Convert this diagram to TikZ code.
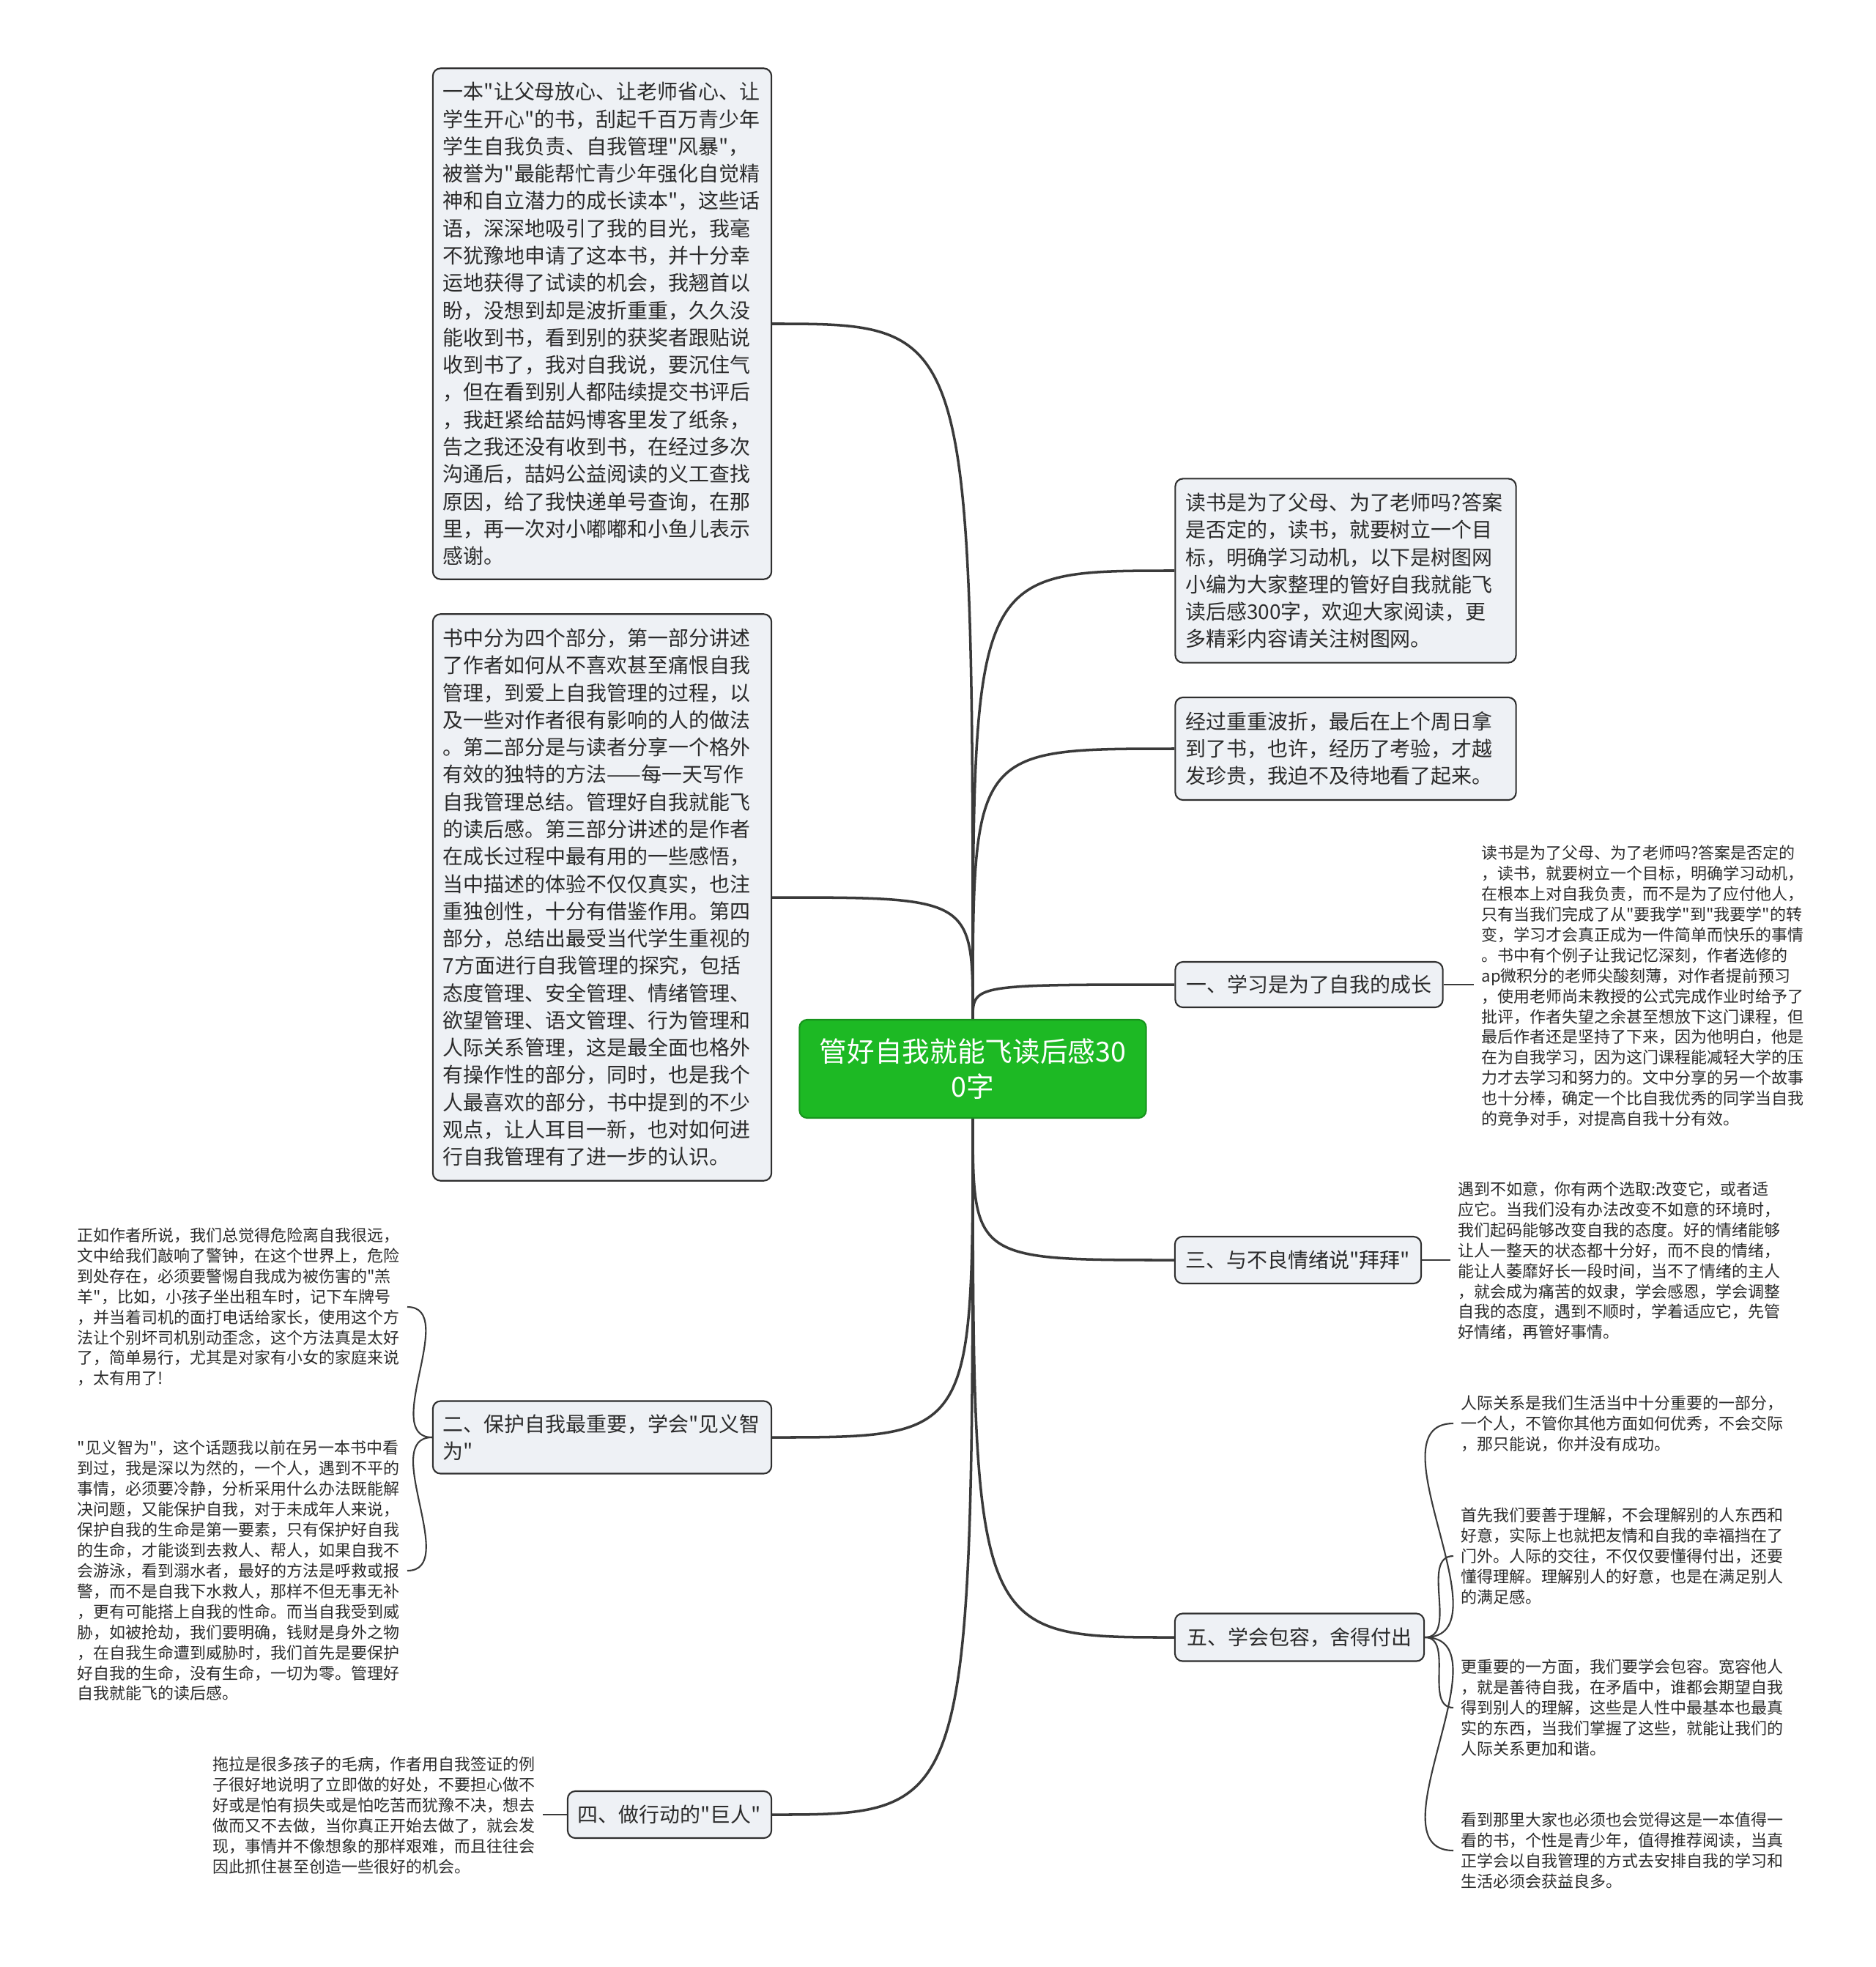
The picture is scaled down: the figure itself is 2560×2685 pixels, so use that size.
\documentclass[tikz,border=0pt]{standalone}
\usepackage{fontspec}
\newfontfamily\cjk{Noto Sans CJK SC}
\usepackage{xcolor}
\definecolor{MapLine}{HTML}{3A3A3A}
\definecolor{MapEdge}{HTML}{2F2F2F}
\definecolor{MapFill}{HTML}{EEF1F5}
\definecolor{MapText}{HTML}{2B2B2B}
\definecolor{MapGreen}{HTML}{1DB924}

\begin{document}
\begin{tikzpicture}[x=0.01cm,y=-0.01cm,
    topic/.style={draw=MapEdge,line width=0.6pt,rounded corners=3pt,fill=MapFill,
      align=left,inner xsep=0.14cm,inner ysep=0pt,text=MapText,
      font=\cjk\fontsize{7.95pt}{10.6pt}\selectfont},
    leaf/.style={inner xsep=0.1cm,inner ysep=0pt,align=left,text=MapText,anchor=west,
      font=\cjk\fontsize{6.25pt}{7.94pt}\selectfont},
    hubbox/.style={draw=MapGreen!80!black,line width=0.6pt,rounded corners=3pt,fill=MapGreen,
      align=center,text=white,minimum width=4.73cm,minimum height=1.34cm,
      font=\cjk\fontsize{10.7pt}{13.6pt}\selectfont},
    branch/.style={draw=MapLine,line width=1pt},
    twig/.style={draw=MapLine,line width=0.6pt}
  ]
    \useasboundingbox (0,0) rectangle (2560,2685);

    \node[hubbox] (hub) at (1328,1459) {管好自我就能飞读后感30\\0字};

    \node[topic,text width=4.34cm,minimum height=6.97cm] (l1) at (822,442)
      {一本"让父母放心、让老师省心、让\\
       学生开心"的书，刮起千百万青少年\\
       学生自我负责、自我管理"风暴"，\\
       被誉为"最能帮忙青少年强化自觉精\\
       神和自立潜力的成长读本"，这些话\\
       语，深深地吸引了我的目光，我毫\\
       不犹豫地申请了这本书，并十分幸\\
       运地获得了试读的机会，我翘首以\\
       盼，没想到却是波折重重，久久没\\
       能收到书，看到别的获奖者跟贴说\\
       收到书了，我对自我说，要沉住气\\
       ，但在看到别人都陆续提交书评后\\
       ，我赶紧给喆妈博客里发了纸条，\\
       告之我还没有收到书，在经过多次\\
       沟通后，喆妈公益阅读的义工查找\\
       原因，给了我快递单号查询，在那\\
       里，再一次对小嘟嘟和小鱼儿表示\\
       感谢。};
    \node[topic,text width=4.34cm,minimum height=7.73cm] (l2) at (822,1225)
      {书中分为四个部分，第一部分讲述\\
       了作者如何从不喜欢甚至痛恨自我\\
       管理，到爱上自我管理的过程，以\\
       及一些对作者很有影响的人的做法\\
       。第二部分是与读者分享一个格外\\
       有效的独特的方法——每一天写作\\
       自我管理总结。管理好自我就能飞\\
       的读后感。第三部分讲述的是作者\\
       在成长过程中最有用的一些感悟，\\
       当中描述的体验不仅仅真实，也注\\
       重独创性，十分有借鉴作用。第四\\
       部分，总结出最受当代学生重视的\\
       7方面进行自我管理的探究，包括\\
       态度管理、安全管理、情绪管理、\\
       欲望管理、语文管理、行为管理和\\
       人际关系管理，这是最全面也格外\\
       有操作性的部分，同时，也是我个\\
       人最喜欢的部分，书中提到的不少\\
       观点，让人耳目一新，也对如何进\\
       行自我管理有了进一步的认识。};
    \node[topic,text width=4.34cm,minimum height=0.99cm] (l3) at (822,1962)
      {二、保护自我最重要，学会"见义智\\为"};
    \node[topic,minimum width=2.77cm,minimum height=0.64cm] (l4) at (914,2477)
      {四、做行动的"巨人"};

    \node[topic,text width=4.37cm,minimum height=2.51cm] (r1) at (1837,779)
      {读书是为了父母、为了老师吗?答案\\
       是否定的，读书，就要树立一个目\\
       标，明确学习动机，以下是树图网\\
       小编为大家整理的管好自我就能飞\\
       读后感300字，欢迎大家阅读，更\\
       多精彩内容请关注树图网。};
    \node[topic,text width=4.37cm,minimum height=1.40cm] (r2) at (1837,1022)
      {经过重重波折，最后在上个周日拿\\
       到了书，也许，经历了考验，才越\\
       发珍贵，我迫不及待地看了起来。};
    \node[topic,minimum width=3.65cm,minimum height=0.62cm] (r3) at (1787,1344)
      {一、学习是为了自我的成长};
    \node[topic,minimum width=3.36cm,minimum height=0.64cm] (r4) at (1772,1720)
      {三、与不良情绪说"拜拜"};
    \node[topic,minimum width=3.40cm,minimum height=0.65cm] (r5) at (1774,2235)
      {五、学会包容，舍得付出};

    \node[leaf] (t1) at (2012,1346)
      {读书是为了父母、为了老师吗?答案是否定的\\
       ，读书，就要树立一个目标，明确学习动机，\\
       在根本上对自我负责，而不是为了应付他人，\\
       只有当我们完成了从"要我学"到"我要学"的转\\
       变，学习才会真正成为一件简单而快乐的事情\\
       。书中有个例子让我记忆深刻，作者选修的\\
       ap微积分的老师尖酸刻薄，对作者提前预习\\
       ，使用老师尚未教授的公式完成作业时给予了\\
       批评，作者失望之余甚至想放下这门课程，但\\
       最后作者还是坚持了下来，因为他明白，他是\\
       在为自我学习，因为这门课程能减轻大学的压\\
       力才去学习和努力的。文中分享的另一个故事\\
       也十分棒，确定一个比自我优秀的同学当自我\\
       的竞争对手，对提高自我十分有效。};
    \node[leaf] (t2) at (1980,1721)
      {遇到不如意，你有两个选取:改变它，或者适\\
       应它。当我们没有办法改变不如意的环境时，\\
       我们起码能够改变自我的态度。好的情绪能够\\
       让人一整天的状态都十分好，而不良的情绪，\\
       能让人萎靡好长一段时间，当不了情绪的主人\\
       ，就会成为痛苦的奴隶，学会感恩，学会调整\\
       自我的态度，遇到不顺时，学着适应它，先管\\
       好情绪，再管好事情。};
    \node[leaf] (t3) at (95,1784)
      {正如作者所说，我们总觉得危险离自我很远，\\
       文中给我们敲响了警钟，在这个世界上，危险\\
       到处存在，必须要警惕自我成为被伤害的"羔\\
       羊"，比如，小孩子坐出租车时，记下车牌号\\
       ，并当着司机的面打电话给家长，使用这个方\\
       法让个别坏司机别动歪念，这个方法真是太好\\
       了，简单易行，尤其是对家有小女的家庭来说\\
       ，太有用了!};
    \node[leaf] (t4) at (95,2144)
      {"见义智为"，这个话题我以前在另一本书中看\\
       到过，我是深以为然的，一个人，遇到不平的\\
       事情，必须要冷静，分析采用什么办法既能解\\
       决问题，又能保护自我，对于未成年人来说，\\
       保护自我的生命是第一要素，只有保护好自我\\
       的生命，才能谈到去救人、帮人，如果自我不\\
       会游泳，看到溺水者，最好的方法是呼救或报\\
       警，而不是自我下水救人，那样不但无事无补\\
       ，更有可能搭上自我的性命。而当自我受到威\\
       胁，如被抢劫，我们要明确，钱财是身外之物\\
       ，在自我生命遭到威胁时，我们首先是要保护\\
       好自我的生命，没有生命，一切为零。管理好\\
       自我就能飞的读后感。};
    \node[leaf] (t5) at (280,2478)
      {拖拉是很多孩子的毛病，作者用自我签证的例\\
       子很好地说明了立即做的好处，不要担心做不\\
       好或是怕有损失或是怕吃苦而犹豫不决，想去\\
       做而又不去做，当你真正开始去做了，就会发\\
       现，事情并不像想象的那样艰难，而且往往会\\
       因此抓住甚至创造一些很好的机会。};
    \node[leaf] (t6) at (1984,1943)
      {人际关系是我们生活当中十分重要的一部分，\\
       一个人，不管你其他方面如何优秀，不会交际\\
       ，那只能说，你并没有成功。};
    \node[leaf] (t7) at (1984,2124)
      {首先我们要善于理解，不会理解别的人东西和\\
       好意，实际上也就把友情和自我的幸福挡在了\\
       门外。人际的交往，不仅仅要懂得付出，还要\\
       懂得理解。理解别人的好意，也是在满足别人\\
       的满足感。};
    \node[leaf] (t8) at (1984,2331)
      {更重要的一方面，我们要学会包容。宽容他人\\
       ，就是善待自我，在矛盾中，谁都会期望自我\\
       得到别人的理解，这些是人性中最基本也最真\\
       实的东西，当我们掌握了这些，就能让我们的\\
       人际关系更加和谐。};
    \node[leaf] (t9) at (1984,2526)
      {看到那里大家也必须也会觉得这是一本值得一\\
       看的书，个性是青少年，值得推荐阅读，当真\\
       正学会以自我管理的方式去安排自我的学习和\\
       生活必须会获益良多。};

    \draw[branch] (hub.north) .. controls (hub.north |- l1.east) .. (l1.east);
    \draw[branch] (hub.north) .. controls (hub.north |- l2.east) .. (l2.east);
    \draw[branch] (hub.north) .. controls (hub.north |- r1.west) .. (r1.west);
    \draw[branch] (hub.north) .. controls (hub.north |- r2.west) .. (r2.west);
    \draw[branch] (hub.north) .. controls (hub.north |- r3.west) .. (r3.west);
    \draw[branch] (hub.south) .. controls (hub.south |- l3.east) .. (l3.east);
    \draw[branch] (hub.south) .. controls (hub.south |- l4.east) .. (l4.east);
    \draw[branch] (hub.south) .. controls (hub.south |- r4.west) .. (r4.west);
    \draw[branch] (hub.south) .. controls (hub.south |- r5.west) .. (r5.west);

    \draw[twig] (r3.east) -- (r3.east -| t1.west);
    \draw[twig] (r4.east) -- (r4.east -| t2.west);
    \draw[twig] (l3.west) to[out=180,in=0] (t3.east);
    \draw[twig] (l3.west) to[out=180,in=0] (t4.east);
    \draw[twig] (l4.west) -- (l4.west -| t5.east);
    \draw[twig] (r5.east) to[out=0,in=180] (t6.west);
    \draw[twig] (r5.east) to[out=0,in=180] (t7.west);
    \draw[twig] (r5.east) to[out=0,in=180] (t8.west);
    \draw[twig] (r5.east) to[out=0,in=180] (t9.west);
  \end{tikzpicture}
\end{document}
